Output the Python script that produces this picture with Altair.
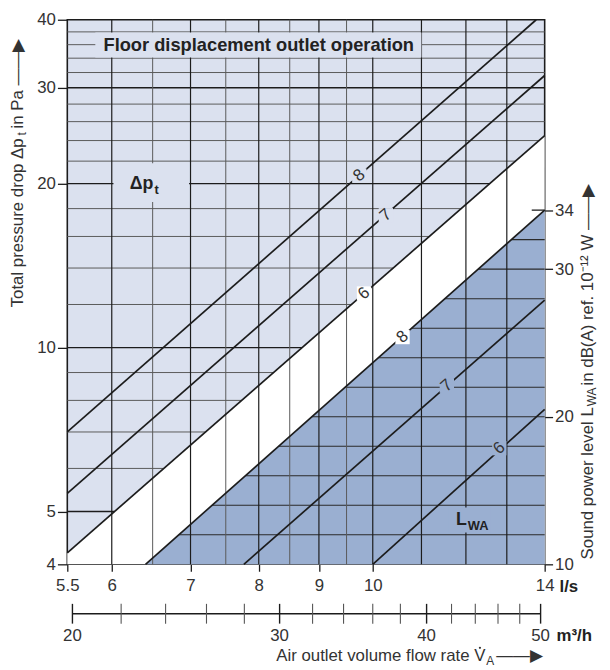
import altair as alt
import numpy as np
import pandas as pd

FONT = "Liberation Sans"
LIGHT = "#dbe1ef"
DARK = "#9aafd1"
INK = "#1c1c1c"
MINOR = "#5a5a5a"
TXT = "#333333"
W, H = 483, 551

# ---------------- data ----------------
q_domain = [5.5, 14]          # l/s
p_domain = [4, 40]            # Pa
db_domain = [10, 46.9]        # dB(A)

x_tick_values = [5.5, 6, 7, 8, 9, 10, 14]
y_tick_values = [4, 5, 10, 20, 30, 40]
db_tick_values = [10, 20, 30, 34]
m3h_tick_values = [20, 22, 24, 26, 28, 30, 32, 34, 36, 38, 40, 42, 44, 46, 48, 50]
m3h_label_values = [20, 30, 40, 50]

vgrid_major = [6, 7, 8, 9, 10, 11, 12, 13]
vgrid_minor = [6.5, 7.5, 8.5, 9.5]
pgrid_major = [5, 10, 20, 30]
pgrid_minor = [6, 7, 8, 9, 12, 14, 16, 18, 22, 24, 26, 28, 32, 34, 36, 38]
dbgrid_levels = [12, 14, 16, 18, 20, 22, 24, 26, 28, 30, 32]

# total pressure drop lines (Pa)
dp_names = ["8", "7", "6"]
dp_q_start = [5.5, 5.5, 5.5]
dp_p_start = [7.0, 5.4, 4.2]
dp_q_end = [13.77, 14.0, 14.0]
dp_p_end = [40.0, 31.6, 24.5]
dp_label_q = [9.74, 10.26, 9.83]
dp_label_p = [20.7, 17.5, 12.57]

# sound power lines (dB(A))
lwa_names = ["8", "7", "6"]
lwa_q_start = [6.41, 7.77, 10.0]
lwa_db_start = [10, 10, 10]
lwa_q_end = [14.0, 14.0, 14.0]
lwa_db_end = [34.0, 27.9, 20.5]
lwa_label_q = [10.6, 11.56, 12.81]
lwa_label_db = [25.4, 22.1, 17.87]

title_text = "Floor displacement outlet operation"
title_q, title_p = 8.0, 36
title_box_q = [5.81, 11.0]
title_box_p = [34.1, 37.9]
dpt_box_q = [6.02, 6.98]
dpt_box_p = [18.5, 21.8]
dpt_q, dpt_p = 6.51, 20
lwa_box_q = [11.6, 12.6]
lwa_box_db = [12.15, 13.85]
lwa_txt_q, lwa_txt_db = 12.02, 13

# ---------------- scales / axes ----------------
xs = alt.Scale(type="log", domain=q_domain, nice=False)
ys_p = alt.Scale(type="log", domain=p_domain, nice=False)
ys_d = alt.Scale(type="linear", domain=db_domain, nice=False, zero=False)

x_axis = alt.Axis(orient="bottom", values=x_tick_values, format="~g", title=None,
                  grid=False, domain=False, tickSize=7, tickWidth=1.3, tickColor=INK,
                  labelFont=FONT, labelFontSize=17, labelColor=TXT, labelPadding=6,
                  labelFlush=False, labelOverlap=False)
y_axis = alt.Axis(orient="left", values=y_tick_values, format="~g", title=None,
                  grid=False, domain=False, tickSize=10, tickWidth=1.3, tickColor=INK,
                  labelFont=FONT, labelFontSize=17, labelColor=TXT, labelPadding=2,
                  labelFlush=False, labelOverlap=False)
d_axis = alt.Axis(orient="right", values=db_tick_values, format="d", title=None,
                  grid=False, domain=False, tickSize=8, tickWidth=1.3, tickColor=INK,
                  labelFont=FONT, labelFontSize=17, labelColor=TXT, labelPadding=2,
                  labelFlush=False, labelOverlap=False)


def X(field="q"):
    return alt.X(f"{field}:Q", scale=xs, axis=x_axis)


def YP(field="p", axis=None):
    return alt.Y(f"{field}:Q", scale=ys_p, axis=axis)


def YD(field="d", axis=None):
    return alt.Y(f"{field}:Q", scale=ys_d, axis=axis)


def q_on_line(level, q0, v0, q1, v1, log_v):
    g = np.log10 if log_v else (lambda v: v)
    f = (g(level) - g(v0)) / (g(v1) - g(v0))
    return float(10 ** (np.log10(q0) + f * (np.log10(q1) - np.log10(q0))))


layers = []

# white band below the lowest pressure line
white_df = pd.DataFrame({"q": [dp_q_start[2], dp_q_end[2]],
                         "p": [dp_p_start[2], dp_p_end[2]],
                         "p0": [p_domain[0]] * 2})
layers.append(alt.Chart(white_df).mark_area(color="white").encode(
    x=X(), y=YP(axis=y_axis), y2=alt.Y2("p0")))

# dark sound region below the top LWA line
dark_df = pd.DataFrame({"q": [lwa_q_start[0], lwa_q_end[0]],
                        "d": [lwa_db_start[0], lwa_db_end[0]],
                        "d0": [db_domain[0]] * 2})
layers.append(alt.Chart(dark_df).mark_area(color=DARK).encode(
    x=X(), y=YD(axis=d_axis), y2=alt.Y2("d0")))

# Pa grid, clipped at the lowest pressure line
rows = []
for lv in pgrid_minor + pgrid_major:
    qe = min(q_domain[1], q_on_line(lv, dp_q_start[2], dp_p_start[2], dp_q_end[2], dp_p_end[2], True))
    rows.append({"q0": q_domain[0], "q1": qe, "p": lv, "major": lv in pgrid_major})
pgrid_df = pd.DataFrame(rows)
for major, col, sw in [(False, MINOR, 1.0), (True, INK, 1.4)]:
    layers.append(alt.Chart(pgrid_df[pgrid_df.major == major]).mark_rule(color=col, strokeWidth=sw).encode(
        x=X("q0"), x2=alt.X2("q1"), y=YP()))

# dB grid, clipped at the top LWA line
rows = []
for lv in dbgrid_levels:
    qs = q_on_line(lv, lwa_q_start[0], lwa_db_start[0], lwa_q_end[0], lwa_db_end[0], False)
    rows.append({"q0": qs, "q1": q_domain[1], "d": lv})
dgrid_df = pd.DataFrame(rows)
layers.append(alt.Chart(dgrid_df).mark_rule(color="#2a2a2a", strokeWidth=1.1).encode(
    x=X("q0"), x2=alt.X2("q1"), y=YD()))

# vertical grid
layers.append(alt.Chart(pd.DataFrame({"q": vgrid_minor})).mark_rule(color=MINOR, strokeWidth=1.0).encode(x=X()))
layers.append(alt.Chart(pd.DataFrame({"q": vgrid_major})).mark_rule(color=INK, strokeWidth=1.2).encode(x=X()))

# title & label boxes
layers.append(alt.Chart(pd.DataFrame({"q0": [title_box_q[0], dpt_box_q[0]], "q1": [title_box_q[1], dpt_box_q[1]],
                                      "p0": [title_box_p[0], dpt_box_p[0]], "p1": [title_box_p[1], dpt_box_p[1]]}))
              .mark_rect(color=LIGHT).encode(x=X("q0"), x2=alt.X2("q1"), y=YP("p0"), y2=alt.Y2("p1")))
layers.append(alt.Chart(pd.DataFrame({"q0": [lwa_box_q[0]], "q1": [lwa_box_q[1]],
                                      "d0": [lwa_box_db[0]], "d1": [lwa_box_db[1]]}))
              .mark_rect(color=DARK).encode(x=X("q0"), x2=alt.X2("q1"), y=YD("d0"), y2=alt.Y2("d1")))

# characteristic lines
dp_df = pd.DataFrame({"name": [n for n in dp_names for _ in range(2)],
                      "q": [v for a, b in zip(dp_q_start, dp_q_end) for v in (a, b)],
                      "p": [v for a, b in zip(dp_p_start, dp_p_end) for v in (a, b)]})
layers.append(alt.Chart(dp_df).mark_line(color=INK, strokeWidth=1.7).encode(
    x=X(), y=YP(), detail="name:N"))
lwa_df = pd.DataFrame({"name": [n for n in lwa_names for _ in range(2)],
                       "q": [v for a, b in zip(lwa_q_start, lwa_q_end) for v in (a, b)],
                       "d": [v for a, b in zip(lwa_db_start, lwa_db_end) for v in (a, b)]})
layers.append(alt.Chart(lwa_df).mark_line(color=INK, strokeWidth=1.7).encode(
    x=X(), y=YD(), detail="name:N"))

# 34 dB marker crossing the right border
layers.append(alt.Chart(pd.DataFrame({"q0": [13.65], "q1": [q_domain[1]], "d": [34]}))
              .mark_rule(color=INK, strokeWidth=1.3).encode(x=X("q0"), x2=alt.X2("q1"), y=YD()))

# label masks (gaps in lines)
dp_lab = pd.DataFrame({"name": dp_names, "q": dp_label_q, "p": dp_label_p,
                       "bg": [LIGHT, LIGHT, "white"]})
lwa_lab = pd.DataFrame({"name": lwa_names, "q": lwa_label_q, "d": lwa_label_db,
                        "bg": ["white", DARK, DARK]})
layers.append(alt.Chart(dp_lab).mark_point(shape="square", filled=True, size=210, opacity=1, strokeWidth=0).encode(
    x=X(), y=YP(), color=alt.Color("bg:N", scale=None)))
layers.append(alt.Chart(lwa_lab).mark_point(shape="square", filled=True, size=210, opacity=1, strokeWidth=0).encode(
    x=X(), y=YD(), color=alt.Color("bg:N", scale=None)))
layers.append(alt.Chart(dp_lab).mark_text(angle=319, font=FONT, fontSize=17, color=TXT).encode(
    x=X(), y=YP(), text="name:N"))
layers.append(alt.Chart(lwa_lab).mark_text(angle=319, font=FONT, fontSize=17, color=TXT).encode(
    x=X(), y=YD(), text="name:N"))

# in-plot texts
layers.append(alt.Chart(pd.DataFrame({"q": [title_q], "p": [title_p], "t": [title_text]}))
              .mark_text(font=FONT, fontSize=18.5, fontWeight="bold", color="#222222")
              .encode(x=X(), y=YP(), text="t:N"))
layers.append(alt.Chart(pd.DataFrame({"q": [dpt_q], "p": [dpt_p], "t": ["Δp"]}))
              .mark_text(font=FONT, fontSize=18, fontWeight="bold", color="#222222", align="right")
              .encode(x=X(), y=YP(), text="t:N"))
layers.append(alt.Chart(pd.DataFrame({"q": [dpt_q], "p": [dpt_p], "t": ["t"]}))
              .mark_text(font=FONT, fontSize=13, fontWeight="bold", color="#222222", align="left", dx=1, dy=6)
              .encode(x=X(), y=YP(), text="t:N"))
layers.append(alt.Chart(pd.DataFrame({"q": [lwa_txt_q], "d": [lwa_txt_db], "t": ["L"]}))
              .mark_text(font=FONT, fontSize=18, fontWeight="bold", color="#222222", align="right")
              .encode(x=X(), y=YD(), text="t:N"))
layers.append(alt.Chart(pd.DataFrame({"q": [lwa_txt_q], "d": [lwa_txt_db], "t": ["WA"]}))
              .mark_text(font=FONT, fontSize=13, fontWeight="bold", color="#222222", align="left", dx=1, dy=6)
              .encode(x=X(), y=YD(), text="t:N"))

# second flow axis in m3/h (drawn under the l/s axis)
m3h_df = pd.DataFrame({"m3h": m3h_tick_values})
m3h_base = alt.Chart(m3h_df).transform_calculate(q="datum.m3h / 3.6", major="datum.m3h % 10 == 0")
layers.append(alt.Chart(pd.DataFrame({"a": [m3h_tick_values[0]], "b": [m3h_tick_values[-1]]}))
              .transform_calculate(q0="datum.a / 3.6", q1="datum.b / 3.6")
              .mark_rule(color=INK, strokeWidth=1.4)
              .encode(x=X("q0"), x2=alt.X2("q1"), y=alt.value(601)))
layers.append(m3h_base.transform_filter("!datum.major").mark_rule(color="#555555", strokeWidth=1.1)
              .encode(x=X(), y=alt.value(591), y2=alt.value(611)))
layers.append(m3h_base.transform_filter("datum.major").mark_rule(color=INK, strokeWidth=1.4)
              .encode(x=X(), y=alt.value(591), y2=alt.value(611)))
layers.append(alt.Chart(pd.DataFrame({"m3h": m3h_label_values}))
              .transform_calculate(q="datum.m3h / 3.6", lab="format(datum.m3h, 'd')")
              .mark_text(font=FONT, fontSize=17, color=TXT, baseline="middle")
              .encode(x=X(), y=alt.value(624), text="lab:N"))

# unit & axis titles
def ptext(t, x, y, **kw):
    args = dict(font=FONT, fontSize=17, color=TXT, baseline="middle", align="left")
    args.update(kw)
    return alt.Chart(pd.DataFrame({"t": [t]})).mark_text(**args).encode(
        x=alt.value(x), y=alt.value(y), text="t:N")

layers.append(ptext("l/s", 498, 574, fontWeight="bold", color="#222222"))
layers.append(ptext("m³/h", 495, 624, fontWeight="bold", color="#222222"))

layers.append(ptext("Air outlet volume flow rate V", 423, 644, align="right"))
# dot over the V (flow-rate symbol)
layers.append(alt.Chart(pd.DataFrame({"k": [0]})).mark_point(filled=True, shape="circle", size=5, color=TXT, opacity=1)
              .encode(x=alt.value(417.5), y=alt.value(635.5)))
layers.append(ptext("A", 424, 644, fontSize=12, dy=5))
layers.append(ptext("——▶", 434, 644))

layers.append(ptext("Total pressure drop Δp", -50, 291, angle=270))
layers.append(ptext("t", -50, 291, angle=270, fontSize=12, dx=174, dy=4))
layers.append(ptext(" in Pa ——▶", -50, 291, angle=270, dx=181))

layers.append(ptext("Sound power level L", 527, 546, angle=270))
layers.append(ptext("WA", 527, 546, angle=270, fontSize=12, dx=155, dy=4))
layers.append(ptext(" in dB(A) ref. 10⁻¹² W ——▶", 527, 546, angle=270, dx=176))

chart = (alt.layer(*layers)
         .resolve_scale(y="independent")
         .properties(width=W, height=H,
                     autosize=alt.AutoSizeParams(type="none"),
                     padding={"left": 60, "top": 8, "right": 58, "bottom": 100})
         .configure_view(stroke=INK, strokeWidth=1.6, fill=LIGHT))

chart.save("out.html", embed_options={"renderer": "svg", "actions": False})
